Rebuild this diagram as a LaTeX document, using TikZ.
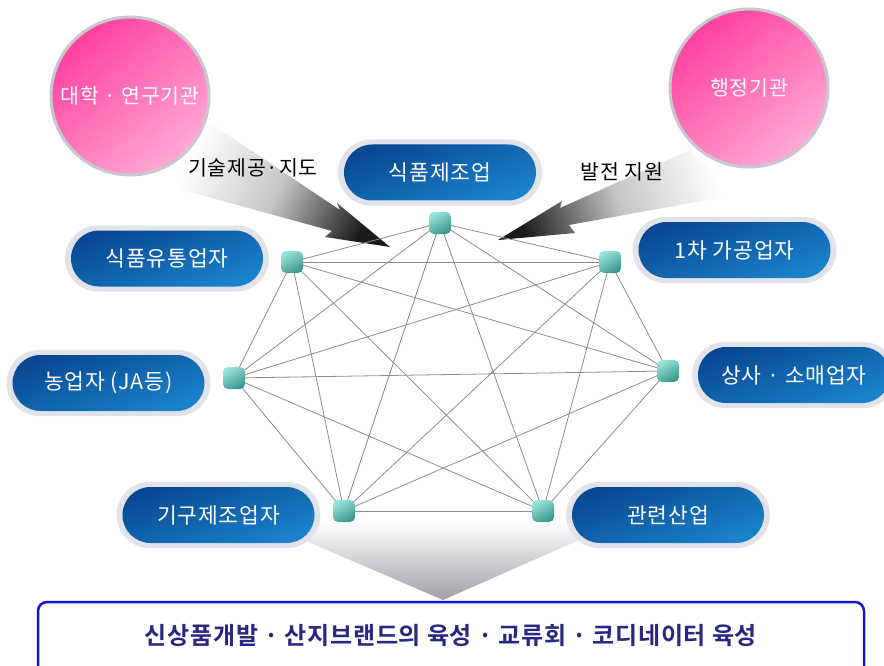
\documentclass[tikz,border=0pt]{standalone}
\usepackage{fontspec}
\newfontfamily\kr{Noto Sans CJK KR}
\newfontfamily\krsp{Noto Sans CJK KR}[LetterSpace=4]
\newfontfamily\krbold{Noto Sans CJK KR Bold}[LetterSpace=3]
\usetikzlibrary{shapes.geometric}
\definecolor{pilldark}{RGB}{8,72,146}
\definecolor{pilllight}{RGB}{26,130,204}
\definecolor{halo}{RGB}{226,226,234}
\definecolor{pinkdark}{RGB}{255,64,160}
\definecolor{pinklight}{RGB}{255,170,212}
\definecolor{circborder}{RGB}{200,200,206}
\definecolor{teallight}{RGB}{150,228,216}
\definecolor{tealdark}{RGB}{60,150,140}
\definecolor{edgegray}{RGB}{140,140,140}
\definecolor{boxblue}{RGB}{20,20,210}
\definecolor{navytext}{RGB}{40,40,130}
\tikzset{
  halobox/.style={fill=halo, rounded corners=33pt, minimum width=204pt, minimum height=66pt, inner sep=0pt},
  pill/.style={top color=pilldark, bottom color=pilllight, shading angle=20, rounded corners=28pt,
     minimum width=192pt, minimum height=56pt, inner sep=0pt, text=white, font=\krsp\fontsize{21.5}{22}\selectfont},
  hub/.style={top color=teallight, bottom color=tealdark, shading angle=30, rounded corners=5pt,
     minimum width=22pt, minimum height=22pt, inner sep=0pt},
  link/.style={edgegray, line width=0.8pt},
  pinkcirc/.style={circle, top color=pinkdark, bottom color=pinklight, shading angle=40,
     draw=circborder, line width=3pt, minimum size=158pt, inner sep=0pt, text=white,
     font=\krsp\fontsize{20.5}{21}\selectfont},
  plain/.style={font=\krsp\fontsize{20.5}{21}\selectfont, text=black}
}
\begin{document}
\begin{tikzpicture}[x=1pt,y=-1pt]
\useasboundingbox (0,0) rectangle (884,666);
\fill[white] (0,0) rectangle (884,666);

% bottom funnel
\shade[top color=white, bottom color={rgb,255:red,160;green,160;blue,166}]
  (262,522) -- (620,522) -- (443,600) -- cycle;

% gradient arrows
\shade[top color=white, bottom color=black!90, middle color=gray!45, shading angle=63]
  (210,123) -- (340,210) -- (337,203) -- (390,247) -- (325,237) -- (332,231) -- (172,187) -- cycle;
\shade[top color=white, bottom color=black!90, middle color=gray!45, shading angle=-72]
  (690,150) -- (560,208) -- (562,201) -- (498,240) -- (575,233) -- (569,225) -- (735,195) -- cycle;

% hubs (positions)
\coordinate (n1) at (440,223);
\coordinate (n2) at (292,262);
\coordinate (n3) at (610,262);
\coordinate (n4) at (234,378);
\coordinate (n5) at (668,371);
\coordinate (n6) at (344,511);
\coordinate (n7) at (543,511);

% complete graph
\foreach \a/\b in {n1/n2,n1/n3,n1/n4,n1/n5,n1/n6,n1/n7,
                   n2/n3,n2/n4,n2/n5,n2/n6,n2/n7,
                   n3/n4,n3/n5,n3/n6,n3/n7,
                   n4/n5,n4/n6,n4/n7,
                   n5/n6,n5/n7,
                   n6/n7}
  \draw[link] (\a) -- (\b);

% hub squares
\foreach \n in {n1,n2,n3,n4,n5,n6,n7}
  \node[hub] (s\n) at (\n) {};

% pills
\node[halobox] (h1) at (440,172.5) {};
\node[pill] (p1) at (h1.center) {식품제조업};
\node[halobox] (h2) at (167,258.5) {};
\node[pill] (p2) at (h2.center) {식품유통업자};
\node[halobox] (h3) at (734.5,250) {};
\node[pill] (p3) at (h3.center) {1차 가공업자};
\node[halobox] (h4) at (108.5,383) {};
\node[pill] (p4) at (h4.center) {농업자 (JA등)};
\node[halobox] (h5) at (794,375) {};
\node[pill] (p5) at (h5.center) {상사 · 소매업자};
\node[halobox] (h6) at (218.5,515) {};
\node[pill] (p6) at (h6.center) {기구제조업자};
\node[halobox] (h7) at (668,515) {};
\node[pill] (p7) at (h7.center) {관련산업};

% circles
\node[pinkcirc] (c1) at (130,96) {대학 · 연구기관};
\node[pinkcirc] (c2) at (749,88) {행정기관};

% arrow labels
\node[plain] (l1) at (253,168) {기술제공·지도};
\node[plain] (l2) at (622,172) {발전 지원};

% bottom box
\draw[boxblue, line width=2.5pt, rounded corners=9pt] (38,602) rectangle (864,700);
\node[font=\krbold\fontsize{24}{24}\selectfont, text=navytext] (bt) at (451,636)
  {신상품개발 · 산지브랜드의 육성 · 교류회 · 코디네이터 육성};
\end{tikzpicture}
\end{document}
